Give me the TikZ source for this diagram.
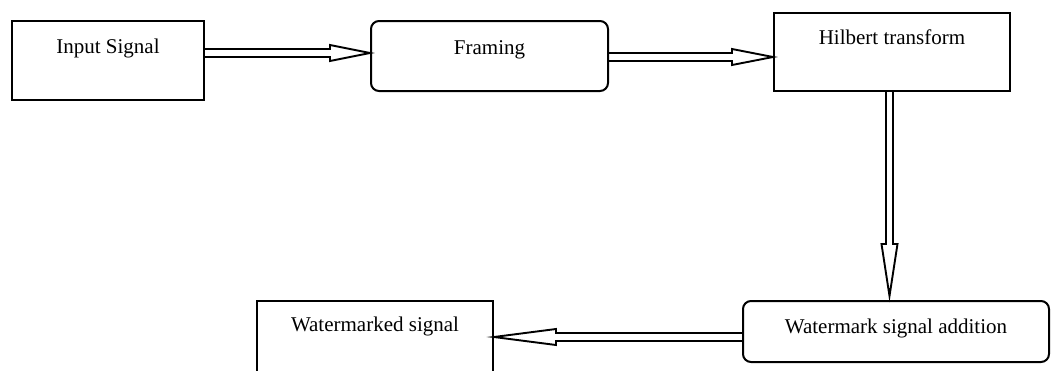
\documentclass[tikz,border=0pt]{standalone}
\usepackage{fontspec}
\setmainfont{Liberation Serif}
\usetikzlibrary{calc}
\begin{document}
\begin{tikzpicture}[x=1pt,y=-1pt,
  box/.style={draw=black,line width=2pt,inner sep=0pt,anchor=north west,
    font=\fontsize{21}{25}\selectfont},
  rbox/.style={box,rounded corners=8pt},
  arr/.style={draw=black,line width=1.9pt,line join=miter}]
\useasboundingbox (0,0) rectangle (1054,370);
\clip (0,0) rectangle (1054,370);
\node[box,minimum width=192pt,minimum height=79pt,text height=32pt,text depth=47pt] (in) at (11,20) {Input Signal};
\node[rbox,minimum width=237pt,minimum height=70pt,text height=33pt,text depth=37pt] (fr) at (370,20) {Framing};
\node[box,minimum width=236pt,minimum height=78pt,text height=31pt,text depth=47pt] (hi) at (773,12) {Hilbert transform};
\node[rbox,minimum width=306pt,minimum height=61pt,text height=32pt,text depth=29pt] (ad) at (742,300) {Watermark signal addition};
\node[box,minimum width=236pt,minimum height=85pt,text height=30pt,text depth=55pt] (wm) at (256,300) {Watermarked signal};
% arrow 1
\coordinate (s1) at (in.east |- 0,53);
\coordinate (e1) at (fr.west |- 0,53);
\draw[arr] ($(s1)+(0,-4)$) -- ($(e1)+(-40,-4)$) -- ($(e1)+(-40,-8)$) -- (e1)
  -- ($(e1)+(-40,8)$) -- ($(e1)+(-40,4)$) -- ($(s1)+(0,4)$);
% arrow 2
\coordinate (s2) at (fr.east |- 0,57);
\coordinate (e2) at (hi.west |- 0,57);
\draw[arr] ($(s2)+(0,-4)$) -- ($(e2)+(-41,-4)$) -- ($(e2)+(-41,-8)$) -- (e2)
  -- ($(e2)+(-41,8)$) -- ($(e2)+(-41,4)$) -- ($(s2)+(0,4)$);
% arrow 3 (vertical)
\coordinate (s3) at (hi.south -| 889.5,0);
\coordinate (e3) at ($(ad.north -| 889.5,0)+(0,-4)$);
\draw[arr] ($(s3)+(-3.5,0)$) -- ($(e3)+(-3.5,-52)$) -- ($(e3)+(-8,-52)$) -- (e3)
  -- ($(e3)+(8,-52)$) -- ($(e3)+(3.5,-52)$) -- ($(s3)+(3.5,0)$);
% arrow 4 (leftwards)
\coordinate (s4) at (ad.west |- 0,337);
\coordinate (e4) at (wm.east |- 0,337);
\draw[arr] ($(s4)+(0,-4)$) -- ($(e4)+(62,-4)$) -- ($(e4)+(62,-8)$) -- (e4)
  -- ($(e4)+(62,8)$) -- ($(e4)+(62,4)$) -- ($(s4)+(0,4)$);
\end{tikzpicture}
\end{document}
